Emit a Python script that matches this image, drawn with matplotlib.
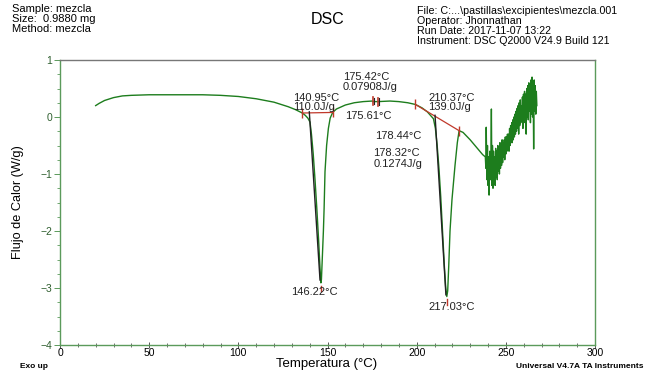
import matplotlib
matplotlib.use("Agg")
import matplotlib.pyplot as plt
from matplotlib.ticker import MultipleLocator

plt.rcParams['font.family'] = ['Liberation Sans', 'DejaVu Sans']

# Main DSC trace (smooth part)
temp = [20, 22, 25, 30, 35, 40, 50, 60, 70, 80, 90, 100, 110, 120, 128, 132, 135.9,
        137.5, 139, 140.2, 141, 142, 143, 144, 145, 145.8, 146.3, 146.6, 147.2, 147.7,
        148.1, 148.6, 149.5, 150.5, 151.5, 152.9, 155, 160, 165, 170, 175, 175.4, 175.6,
        178.3, 185, 190, 195, 199.3, 203, 206, 208, 209.4, 210.5, 211.5, 212.5, 213.5,
        214.5, 215.5, 216.3, 216.9, 217.4, 218, 218.7, 219.8, 221.5, 222.8, 223.8, 226,
        230, 234, 237, 238.5]
flow = [0.20, 0.24, 0.29, 0.34, 0.37, 0.38, 0.39, 0.39, 0.39, 0.39, 0.38, 0.36, 0.32,
        0.26, 0.18, 0.13, 0.07, 0.03, -0.02, -0.09, -0.3, -0.65, -1.1, -1.6, -2.15,
        -2.65, -2.91, -2.85, -2.4, -2.0, -1.6, -0.96, -0.5, -0.2, -0.02, 0.08, 0.14,
        0.21, 0.25, 0.27, 0.28, 0.27, 0.27, 0.27, 0.28, 0.27, 0.25, 0.22, 0.16, 0.09,
        0.02, -0.03, -0.2, -0.5, -0.9, -1.4, -2.0, -2.6, -3.0, -3.15, -3.05, -2.6,
        -2.0, -1.45, -0.85, -0.45, -0.24, -0.27, -0.40, -0.55, -0.66, -0.70]

# Noisy tail of the trace
noise_temp = [238.8, 239.0, 239.4, 239.7, 240.0, 240.3, 240.6, 241.0, 241.5, 241.9,
              242.2, 242.5, 242.8, 243.1, 243.4, 243.7, 244.0, 244.3, 244.6, 244.9,
              245.2, 245.5, 245.8, 246.1, 246.4, 246.7, 247.0, 247.3, 247.6, 247.9,
              248.2, 248.5, 248.8, 249.1, 249.4, 249.7, 250.0, 250.3, 250.6, 250.9,
              251.2, 251.5, 251.8, 252.1, 252.4, 252.7, 253.0, 253.3, 253.6, 253.9,
              254.2, 254.5, 254.8, 255.1, 255.4, 255.7, 256.0, 256.3, 256.6, 256.9,
              257.2, 257.5, 257.8, 258.1, 258.4, 258.7, 259.0, 259.3, 259.6, 259.9,
              260.2, 260.5, 260.8, 261.1, 261.4, 261.7, 262.0, 262.3, 262.6, 262.9,
              263.2, 263.5, 263.8, 264.1, 264.4, 264.7, 265.0, 265.3, 265.6, 265.9,
              266.2, 266.5, 266.8, 267.1, 267.4]
noise_flow = [-0.9, -0.18, -1.1, -0.5, -1.2, -0.7, -1.37, -0.6, -1.1, 0.14,
              -1.2, -0.5, -1.25, -0.6, -1.15, -0.7, -1.2, -0.55, -1.05, -0.6,
              -1.1, -0.5, -0.95, -0.55, -1.0, -0.45, -0.9, -0.55, -0.85, -0.4,
              -0.8, -0.45, -0.7, -0.4, -0.75, -0.35, -0.65, -0.35, -0.6, -0.3,
              -0.55, -0.3, -0.6, -0.2, -0.5, -0.15, -0.45, -0.1, -0.45, -0.05,
              -0.4, 0.0, -0.35, 0.05, -0.3, 0.1, -0.25, 0.15, -0.2, 0.2,
              -0.3, 0.25, -0.15, 0.3, -0.1, 0.2, -0.05, 0.35, -0.2, 0.4,
              0.0, 0.45, -0.1, 0.4, -0.3, 0.5, 0.0, 0.55, -0.05, 0.6,
              0.1, 0.55, -0.1, 0.65, 0.05, 0.7, 0.0, 0.6, -0.56, 0.65,
              0.1, 0.55, 0.05, 0.45, 0.2]

# Integration baselines (red) and onset tangents (black)
base1_t = [135.9, 152.9]
base1_f = [0.07, 0.08]
base2_t = [199.3, 223.8]
base2_f = [0.22, -0.24]
tan1_t = [139.8, 145.8]
tan1_f = [0.09, -2.86]
tan2_t = [210.3, 216.4]
tan2_f = [0.03, -3.12]
small_t = [175.42, 178.32]
small_f = [0.28, 0.27]
peak_t = [146.22, 217.03]
peak_f = [-2.91, -3.15]

# Annotation texts (one line each) with their anchor (temperature, heat flow)
ann_text = ['140.95°C', '110.0J/g', '175.42°C', '0.07908J/g', '175.61°C',
            '178.44°C', '178.32°C', '0.1274J/g', '210.37°C', '139.0J/g',
            '146.22°C', '217.03°C']
ann_t = [130.7, 130.7, 158.7, 158.7, 159.8, 176.7, 175.6, 175.6, 206.4, 206.4,
         129.6, 206.4]
ann_f = [0.33, 0.17, 0.70, 0.52, 0.02, -0.33, -0.64, -0.82, 0.33, 0.18,
         -3.07, -3.33]

GREEN = '#1d7d1d'
AXG = '#5b9a5b'

fig = plt.figure(figsize=(6.46, 3.71), dpi=100)
ax = fig.add_axes([60/646, 26/371, 535/646, 285/371])

ax.plot(temp + noise_temp, flow + noise_flow, color=GREEN, lw=1.0)
ax.plot(base1_t, base1_f, color='#c0392b', lw=0.9, marker='|', ms=7, mew=1)
ax.plot(base2_t, base2_f, color='#c0392b', lw=0.9, marker='|', ms=7, mew=1)
ax.plot(tan1_t, tan1_f, color='#222222', lw=1.0)
ax.plot(tan2_t, tan2_f, color='#222222', lw=1.0)
for t, f in zip(small_t, small_f):
    ax.plot([t, t], [f - 0.07, f + 0.07], color='#c0392b', lw=1.2)
    ax.plot([t + 0.4, t + 0.4], [f - 0.06, f + 0.06], color='#222222', lw=0.8)
for t, f in zip(peak_t, peak_f):
    ax.plot([t, t], [f - 0.05, f - 0.15], color='#c0392b', lw=1.0)

ax.set_xlim(0, 300)
ax.set_ylim(-4, 1)
ax.xaxis.set_major_locator(MultipleLocator(50))
ax.xaxis.set_minor_locator(MultipleLocator(10))
ax.yaxis.set_major_locator(MultipleLocator(1))
ax.yaxis.set_minor_locator(MultipleLocator(0.25))
ax.tick_params(axis='y', which='major', length=4, width=0.7, labelsize=7.5, pad=1.5)
ax.tick_params(axis='x', which='major', direction='inout', length=4, width=0.7,
               labelsize=7.5, pad=0)
ax.tick_params(axis='x', which='minor', direction='inout', length=2.5, width=0.6)
ax.tick_params(axis='y', which='minor', length=2, width=0.6)
ax.tick_params(axis='x', which='both', colors='#555555', labelcolor='black')
ax.tick_params(axis='y', which='both', colors=AXG, labelcolor='#2e5e2e')
for side in ['left', 'bottom', 'right']:
    ax.spines[side].set_color(AXG)
    ax.spines[side].set_linewidth(1.0)
ax.spines['top'].set_color('#777777')
ax.spines['top'].set_linewidth(1.0)

for s, t, f in zip(ann_text, ann_t, ann_f):
    ax.text(t, f, s, fontsize=8, color='#222222', ha='left', va='center')

ax.set_ylabel('Flujo de Calor (W/g)', fontsize=9.2, labelpad=12)
fig.text(327/646, 0.5/371, 'Temperatura (°C)', fontsize=9.5, ha='center', va='bottom')

# Header
fig.text(12/646, 1 - 19/371, 'Sample: mezcla\nSize:  0.9880 mg\nMethod: mezcla',
         fontsize=8, va='center', ha='left', linespacing=1.0)
fig.text(328/646, 1 - 19/371, 'DSC', fontsize=11.5, ha='center', va='center')
fig.text(417/646, 1 - 25.5/371,
         'File: C:...\\pastillas\\excipientes\\mezcla.001\nOperator: Jhonnathan\n'
         'Run Date: 2017-11-07 13:22\nInstrument: DSC Q2000 V24.9 Build 121',
         fontsize=7.7, va='center', ha='left', linespacing=1.0)
# Footer
fig.text(20/646, 1 - 366/371, 'Exo up', fontsize=6, va='center', ha='left',
         fontweight='bold')
fig.text(644/646, 1 - 366/371, 'Universal V4.7A TA Instruments', fontsize=6,
         va='center', ha='right', fontweight='bold')

fig.savefig('out.png', dpi=100)
